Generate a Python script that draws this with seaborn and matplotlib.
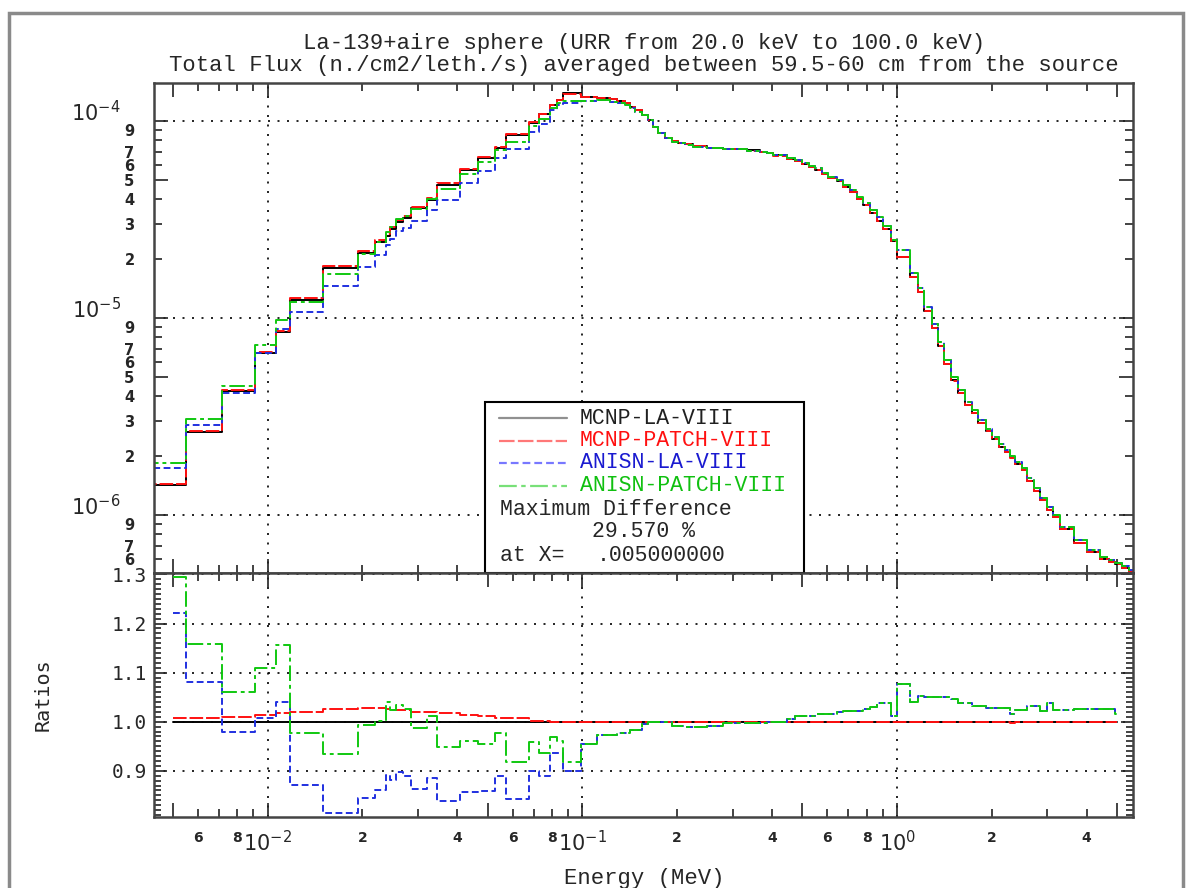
import numpy as np
import pandas as pd
import matplotlib
matplotlib.use("Agg")
import matplotlib.pyplot as plt
import matplotlib.ticker as mticker
from matplotlib.patches import Rectangle
from matplotlib.lines import Line2D
import seaborn as sns

sns.set_style("ticks")
plt.rcParams['font.family'] = ['DejaVu Sans']

#%%
'''DATA (read off the reference picture)'''
#Group boundaries (MeV)
energy_edges = [0.0040, 0.00551, 0.00718, 0.00909, 0.0106, 0.01175, 0.0150, 0.0194, 0.0219, 0.0238,
                0.0245, 0.0255, 0.0269, 0.0286, 0.0320, 0.0344, 0.0408, 0.0466, 0.0527, 0.0572,
                0.0678, 0.0730, 0.0788, 0.0828, 0.0869, 0.099,
                0.111, 0.1223, 0.1285, 0.1366, 0.1416, 0.1469, 0.1543, 0.162, 0.167, 0.174,
                0.183, 0.192, 0.2017, 0.212, 0.225, 0.248, 0.2805, 0.333, 0.367, 0.385,
                0.404, 0.446, 0.474, 0.498, 0.523, 0.548, 0.576, 0.605, 0.643, 0.675,
                0.709, 0.744, 0.782, 0.821, 0.862, 0.905, 0.955, 1.0, 1.10, 1.163,
                1.218, 1.289, 1.346, 1.414, 1.485, 1.567, 1.645, 1.735, 1.814, 1.919,
                2.01, 2.115, 2.205, 2.287, 2.372, 2.49, 2.585, 2.714, 2.85, 2.99,
                3.14, 3.30, 3.64, 4.01, 4.42, 4.70, 4.93, 5.18, 5.44, 5.71]

#Reference flux, MCNP-LA-VIII (n./cm2/leth./s)
mcnp_la_flux = [1.42e-6, 2.65e-6, 4.27e-6, 6.61e-6, 8.49e-6, 1.235e-5, 1.79e-5, 2.14e-5, 2.42e-5, 2.62e-5,
                2.84e-5, 3.07e-5, 3.23e-5, 3.60e-5, 3.97e-5, 4.75e-5, 5.64e-5, 6.51e-5, 7.29e-5, 8.53e-5,
                9.82e-5, 1.09e-4, 1.21e-4, 1.28e-4, 1.38e-4,
                1.327e-4, 1.31e-4, 1.29e-4, 1.26e-4, 1.233e-4, 1.18e-4, 1.133e-4, 1.075e-4, 1.01e-4, 9.35e-5,
                8.66e-5, 8.17e-5, 7.92e-5, 7.76e-5, 7.61e-5, 7.48e-5, 7.34e-5, 7.25e-5, 7.09e-5, 7.0e-5,
                6.87e-5, 6.69e-5, 6.42e-5, 6.26e-5, 6.07e-5, 5.87e-5, 5.66e-5, 5.38e-5, 5.14e-5, 4.94e-5,
                4.63e-5, 4.36e-5, 4.04e-5, 3.74e-5, 3.42e-5, 3.12e-5, 2.82e-5, 2.46e-5, 2.05e-5, 1.62e-5,
                1.35e-5, 1.084e-5, 8.93e-6, 7.21e-6, 5.82e-6, 4.82e-6, 4.15e-6, 3.62e-6, 3.30e-6, 2.94e-6,
                2.66e-6, 2.43e-6, 2.22e-6, 2.08e-6, 1.96e-6, 1.81e-6, 1.69e-6, 1.49e-6, 1.33e-6, 1.195e-6,
                1.06e-6, 9.8e-7, 8.54e-7, 7.24e-7, 6.48e-7, 6.0e-7, 5.77e-7, 5.65e-7, 5.4e-7, 5.15e-7]

#Ratios to MCNP-LA-VIII (bottom panel)
mcnp_patch_ratio = [1.0075, 1.0075, 1.009, 1.014, 1.017, 1.020, 1.027, 1.028, 1.028, 1.025,
                    1.024, 1.023, 1.023, 1.020, 1.019, 1.017, 1.013, 1.012, 1.008, 1.007,
                    1.0025, 1.002, 1.000, 0.9995, 0.9995,
                    0.9995, 0.9995, 0.9995, 0.9995, 0.999, 0.999, 0.999, 0.999, 0.999, 0.999,
                    0.999, 0.999, 0.999, 0.999, 0.999, 0.999, 0.999, 0.999, 0.999, 0.999,
                    0.999, 0.999, 0.999, 0.999, 0.999, 0.999, 0.999, 0.999, 0.999, 0.999,
                    0.999, 0.999, 0.999, 0.999, 0.999, 0.999, 0.999, 0.999, 0.999, 0.999,
                    0.999, 0.999, 0.999, 0.999, 0.999, 0.999, 0.999, 0.999, 0.999, 0.999,
                    0.999, 0.999, 0.999, 0.999, 0.998, 0.999, 0.999, 0.999, 0.999, 0.999,
                    0.999, 0.999, 0.999, 0.999, 0.999, 0.999, 0.999, 0.999, 0.999, 0.999]
anisn_la_ratio_lo = [1.222, 1.081, 0.980, 1.0075, 1.041, 0.871, 0.814, 0.844, 0.860, 0.892,
                     0.882, 0.897, 0.890, 0.863, 0.886, 0.839, 0.857, 0.859, 0.890, 0.843,
                     0.900, 0.890, 0.936, 0.937, 0.900]
anisn_patch_ratio_lo = [1.295, 1.159, 1.060, 1.110, 1.156, 0.977, 0.934, 0.993, 1.002, 1.040,
                        1.023, 1.035, 1.026, 0.988, 1.011, 0.948, 0.960, 0.955, 0.977, 0.918,
                        0.959, 0.937, 0.968, 0.960, 0.918]
#Above 0.1 MeV both ANISN runs give the same ratio
anisn_ratio_hi = [0.955, 0.973, 0.973, 0.977, 0.977, 0.984, 0.984, 0.995, 1.0, 1.0,
                  1.0, 1.0, 0.992, 0.992, 0.990, 0.990, 0.992, 0.997, 0.997, 0.997,
                  0.999, 1.0, 1.006, 1.011, 1.011, 1.011, 1.016, 1.016, 1.016, 1.019,
                  1.022, 1.022, 1.022, 1.026, 1.031, 1.039, 1.039, 1.011, 1.077, 1.041,
                  1.053, 1.050, 1.050, 1.050, 1.050, 1.046, 1.039, 1.039, 1.033, 1.033,
                  1.028, 1.028, 1.028, 1.028, 1.015, 1.023, 1.023, 1.033, 1.033, 1.022,
                  1.038, 1.023, 1.023, 1.026, 1.026, 1.026, 1.026, 1.015, 1.02, 1.02]

series_names = ["MCNP-LA-VIII", "MCNP-PATCH-VIII", "ANISN-LA-VIII", "ANISN-PATCH-VIII"]
max_diff_text = "29.570 %"
max_diff_x = 0.005          #ratio panel starts here
ratio_stop = 5.0
title_lines = ["La-139+aire sphere (URR from 20.0 keV to 100.0 keV)",
               "Total Flux (n./cm2/leth./s) averaged between 59.5-60 cm from the source"]

#%%
'''DATA SETUP'''
edges = np.array(energy_edges)
base = np.array(mcnp_la_flux)
ratios = {"MCNP-LA-VIII": np.ones_like(base),
          "MCNP-PATCH-VIII": np.array(mcnp_patch_ratio),
          "ANISN-LA-VIII": np.array(anisn_la_ratio_lo + anisn_ratio_hi),
          "ANISN-PATCH-VIII": np.array(anisn_patch_ratio_lo + anisn_ratio_hi)}

#Step data for flux panel
flux_frames = []
for name in series_names:
    vals = base * ratios[name]
    flux_frames.append(pd.DataFrame({"E": edges, "val": np.append(vals, vals[-1]), "series": name}))
fluxData = pd.concat(flux_frames, ignore_index = True)

#Step data for ratio panel, limited to [0.005, 5.0]
keep = (edges[1:] > max_diff_x) & (edges[:-1] < ratio_stop)
r_edges = np.clip(np.append(edges[:-1][keep], edges[1:][keep][-1]), max_diff_x, ratio_stop)
ratio_frames = []
for name in series_names:
    vals = ratios[name][keep]
    ratio_frames.append(pd.DataFrame({"E": r_edges, "val": np.append(vals, vals[-1]), "series": name}))
ratioData = pd.concat(ratio_frames, ignore_index = True)

#%%
'''PLOT'''
colors = {"MCNP-LA-VIII": "#000000", "MCNP-PATCH-VIII": "#ff1010",
          "ANISN-LA-VIII": "#2030e0", "ANISN-PATCH-VIII": "#10c810"}
dashes = {"MCNP-LA-VIII": "", "MCNP-PATCH-VIII": (7, 1.5),
          "ANISN-LA-VIII": (3.5, 1.8), "ANISN-PATCH-VIII": (8, 2, 2, 2)}
legend_colors = ["#909090", "#ff7878", "#7878ff", "#78e078"]
text_colors = ["#202020", "#ff1010", "#1a1ad0", "#10c010"]

W, H = 1192, 888
fig = plt.figure(figsize = (W / 100, H / 100), dpi = 100)
ax1 = fig.add_axes([154 / W, 1 - 573 / H, 979 / W, 490 / H])
ax2 = fig.add_axes([154 / W, 1 - 817 / H, 979 / W, 244 / H])

for ax in (ax1, ax2):
    ax.set_xscale('log')
ax1.set_yscale('log')

sns.lineplot(data = fluxData, x = 'E', y = 'val', hue = 'series', style = 'series',
             hue_order = series_names, style_order = series_names,
             palette = colors, dashes = dashes, drawstyle = 'steps-post',
             estimator = None, sort = False, legend = False, lw = 1.4, ax = ax1)
sns.lineplot(data = ratioData, x = 'E', y = 'val', hue = 'series', style = 'series',
             hue_order = series_names, style_order = series_names,
             palette = colors, dashes = dashes, drawstyle = 'steps-post',
             estimator = None, sort = False, legend = False, lw = 1.4, ax = ax2)

ax1.set_xlim(4.35e-3, 5.62)
ax2.set_xlim(4.35e-3, 5.62)
ax1.set_ylim(5.08e-7, 1.56e-4)
ax2.set_ylim(0.806, 1.303)
for ax in (ax1, ax2):
    ax.set_xlabel('')
    ax.set_ylabel('')

#Grid lines (dotted) at decades
grid_kw = dict(color = 'k', lw = 1.2, ls = (0, (1.2, 4.5)), zorder = 0.5)
for d in [1e-2, 1e-1, 1e0]:
    ax1.axvline(d, **grid_kw)
    ax2.axvline(d, **grid_kw)
for d in [1e-6, 1e-5, 1e-4]:
    ax1.axhline(d, **grid_kw)
for r in [0.9, 1.0, 1.1, 1.2, 1.3]:
    ax2.axhline(r, **grid_kw)

#X ticks: long at 10^n and 5x10^n, short at the rest
decades = [1e-3, 1e-2, 1e-1, 1e0]
x_major = [m * d for d in decades for m in (1, 5)]
x_minor = [m * d for d in decades for m in (2, 3, 4, 6, 7, 8, 9)]

def x_major_label(v, pos):
    e = np.log10(v)
    if abs(e - round(e)) < 1e-6:
        return r"$\mathregular{10^{%d}}$" % round(e)
    return ""

def minor_digit(v):
    return int(round(v / 10 ** np.floor(np.log10(v) + 1e-9)))

def x_minor_label(v, pos):
    k = minor_digit(v)
    return str(k) if k in (2, 4, 6, 8) else ""

for ax in (ax1, ax2):
    ax.xaxis.set_major_locator(mticker.FixedLocator(x_major))
    ax.xaxis.set_minor_locator(mticker.FixedLocator(x_minor))
    ax.tick_params(axis = 'both', which = 'both', direction = 'in',
                   top = True, right = True, width = 1.2, color = '#222222')
    ax.tick_params(axis = 'x', which = 'major', length = 10)
    ax.tick_params(axis = 'x', which = 'minor', length = 5.5)
    for s in ax.spines.values():
        s.set_color('#444444')
        s.set_linewidth(1.8)

ax1.xaxis.set_major_formatter(mticker.NullFormatter())
ax1.xaxis.set_minor_formatter(mticker.NullFormatter())
ax2.xaxis.set_major_formatter(mticker.FuncFormatter(x_major_label))
ax2.xaxis.set_minor_formatter(mticker.FuncFormatter(x_minor_label))
ax2.tick_params(axis = 'x', which = 'major', labelsize = 15, pad = 9)
ax2.tick_params(axis = 'x', which = 'minor', labelsize = 10, pad = 10)
for lab in ax2.xaxis.get_minorticklabels():
    lab.set_fontweight('bold')

#Y ticks, flux panel
y_major = [1e-7, 1e-6, 1e-5, 1e-4]
y_minor = [m * d for d in y_major for m in range(2, 10)]

def y_major_label(v, pos):
    return r"$\mathregular{10^{%d}}$" % round(np.log10(v))

def y_minor_label(v, pos):
    k = minor_digit(v)
    return "" if k == 8 else str(k)

ax1.yaxis.set_major_locator(mticker.FixedLocator(y_major))
ax1.yaxis.set_minor_locator(mticker.FixedLocator(y_minor))
ax1.yaxis.set_major_formatter(mticker.FuncFormatter(y_major_label))
ax1.yaxis.set_minor_formatter(mticker.FuncFormatter(y_minor_label))
ax1.tick_params(axis = 'y', which = 'major', length = 10, labelsize = 15, pad = 24)
ax1.tick_params(axis = 'y', which = 'minor', length = 5.5, labelsize = 10.5, pad = 14)
for lab in ax1.yaxis.get_majorticklabels():
    lab.set_verticalalignment('baseline')
for lab in ax1.yaxis.get_minorticklabels():
    lab.set_fontweight('bold')
for t, v in zip(ax1.yaxis.get_minor_ticks(), ax1.yaxis.get_minorticklocs()):
    if minor_digit(v) == 5:
        t.tick1line.set_markersize(10)
        t.tick2line.set_markersize(10)

#Y ticks, ratio panel
ax2.yaxis.set_major_locator(mticker.MultipleLocator(0.1))
ax2.yaxis.set_minor_locator(mticker.MultipleLocator(0.01))
ax2.yaxis.set_major_formatter(mticker.FormatStrFormatter('%.1f'))
ax2.tick_params(axis = 'y', which = 'major', length = 9, labelsize = 14, pad = 5)
ax2.tick_params(axis = 'y', which = 'minor', length = 5)
for lab in ax2.yaxis.get_majorticklabels():
    lab.set_family('DejaVu Sans Mono')

#Legend box (drawn by hand in axes coords)
mono = 'Liberation Mono'
ax1.add_patch(Rectangle((0.338, 0.0), 0.326, 0.349, transform = ax1.transAxes,
                        facecolor = 'white', edgecolor = 'black', lw = 1.5, zorder = 5))
row_y = [0.316, 0.2694, 0.2245, 0.1776]
for name, y, lc, tc in zip(series_names, row_y, legend_colors, text_colors):
    ln = Line2D([0.3524, 0.4219], [y, y], transform = ax1.transAxes, color = lc, lw = 1.6, zorder = 6)
    if dashes[name]:
        ln.set_dashes(dashes[name])
    ax1.add_line(ln)
    ax1.text(0.4351, y, name, transform = ax1.transAxes, color = tc, fontsize = 15.5,
             family = mono, va = 'center', ha = 'left', zorder = 6)
ax1.text(0.3534, 0.1286, "Maximum Difference", transform = ax1.transAxes, fontsize = 15.5,
         family = mono, va = 'center', ha = 'left', zorder = 6)
ax1.text(0.4474, 0.0837, max_diff_text, transform = ax1.transAxes, fontsize = 15.5,
         family = mono, va = 'center', ha = 'left', zorder = 6)
ax1.text(0.3534, 0.0367, "at X=", transform = ax1.transAxes, fontsize = 15.5,
         family = mono, va = 'center', ha = 'left', zorder = 6)
ax1.text(0.4525, 0.0367, ("%.9f" % max_diff_x).lstrip('0'), transform = ax1.transAxes, fontsize = 15.5,
         family = mono, va = 'center', ha = 'left', zorder = 6)

#Titles and axis labels
fig.text(644 / W, 1 - 43 / H, title_lines[0], ha = 'center', va = 'center', fontsize = 16, family = mono)
fig.text(644 / W, 1 - 65 / H, title_lines[1], ha = 'center', va = 'center', fontsize = 16, family = mono)
fig.text(644 / W, 1 - 878 / H, "Energy (MeV)", ha = 'center', va = 'center', fontsize = 16, family = mono)
fig.text(43 / W, 1 - 695 / H, "Ratios", ha = 'center', va = 'center', rotation = 90,
         fontsize = 14.5, family = 'DejaVu Sans Mono')

#Outer frame
fig.add_artist(Rectangle((9 / W, -0.05), 1174 / W, 1 - 13 / H + 0.05, transform = fig.transFigure,
                         fill = False, edgecolor = '#8a8a8a', lw = 2.5, clip_on = False))

fig.savefig('out.png', dpi = 100)
